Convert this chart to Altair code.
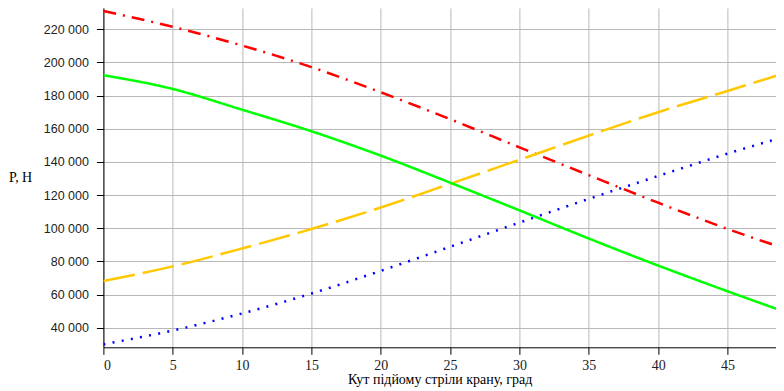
import altair as alt
import pandas as pd

# x values (degrees)
angle = [0, 5, 10, 15, 20, 25, 30, 35, 40, 45, 49.1]

# series values (N)
red_vals = [231000, 221500, 210200, 197200, 182000, 165800, 148800, 132000, 115400, 99600, 87800]
green_vals = [192300, 184000, 171500, 158500, 143800, 127500, 110800, 93800, 77500, 62000, 49700]
gold_vals = [68200, 77000, 87800, 99500, 112500, 126800, 141300, 155900, 170000, 182800, 193500]
blue_vals = [30000, 38300, 48600, 60600, 74300, 88800, 103400, 117700, 131500, 145000, 155200]

names = ["red", "gold", "blue", "green"]
values = [red_vals, gold_vals, blue_vals, green_vals]
colors = ["#ff0000", "#ffc800", "#0000ff", "#00ff00"]
dashes = [[13, 7, 2, 7], [32, 8], [2, 7.3], [1, 0]]
widths = [2.5, 2.5, 2.5, 3]

y_ticks = [40000, 60000, 80000, 100000, 120000, 140000, 160000, 180000, 200000, 220000]
x_ticks = [0, 5, 10, 15, 20, 25, 30, 35, 40, 45]

rows = []
for n, vals in zip(names, values):
    for a, v in zip(angle, vals):
        rows.append({"s": n, "x": a, "y": v})
df = pd.DataFrame(rows)

x_scale = alt.Scale(domain=[0, 48.5], nice=False, zero=False)
y_scale = alt.Scale(domain=[28180, 232850], nice=False, zero=False)

x_axis = alt.Axis(
    values=x_ticks, title="Кут підйому стріли крану, град",
    labelFont="Liberation Serif", labelFontSize=14, labelColor="#222222",
    labelPadding=4, tickSize=7, tickColor="#000000", domainColor="#000000",
    gridColor="#b8b8b8", gridWidth=1, grid=True,
    titleFont="Liberation Serif", titleFontSize=14, titleFontWeight="normal",
    titleColor="#000000", titleBaseline="alphabetic", titleY=36,
)
y_axis = alt.Axis(
    values=y_ticks, title="P, H",
    labelExpr="replace(format(datum.value, ','), ',', ' ')",
    labelFont="Liberation Sans", labelFontSize=12.5, labelColor="#222222",
    labelPadding=8, tickSize=7, tickColor="#000000", domainColor="#000000",
    gridColor="#b8b8b8", gridWidth=1, grid=True,
    titleFont="Liberation Serif", titleFontSize=14, titleFontWeight="normal",
    titleColor="#000000", titleAngle=0, titleAlign="left", titleBaseline="middle",
    titleX=-95, titleY=170,
)

chart = alt.Chart(df).mark_line(clip=True, interpolate="monotone").encode(
    x=alt.X("x:Q", scale=x_scale, axis=x_axis),
    y=alt.Y("y:Q", scale=y_scale, axis=y_axis),
    color=alt.Color("s:N", scale=alt.Scale(domain=names, range=colors), legend=None),
    strokeDash=alt.StrokeDash("s:N", scale=alt.Scale(domain=names, range=dashes), legend=None),
    strokeWidth=alt.StrokeWidth("s:N", scale=alt.Scale(domain=names, range=widths), legend=None),
).properties(
    width=672.6, height=339.3,
    autosize=alt.AutoSizeParams(type="none"),
    padding={"left": 95.4, "top": 0, "right": 0, "bottom": 41},
).configure_view(stroke=None)

chart.save("out.html", embed_options={"renderer": "svg", "actions": False})
